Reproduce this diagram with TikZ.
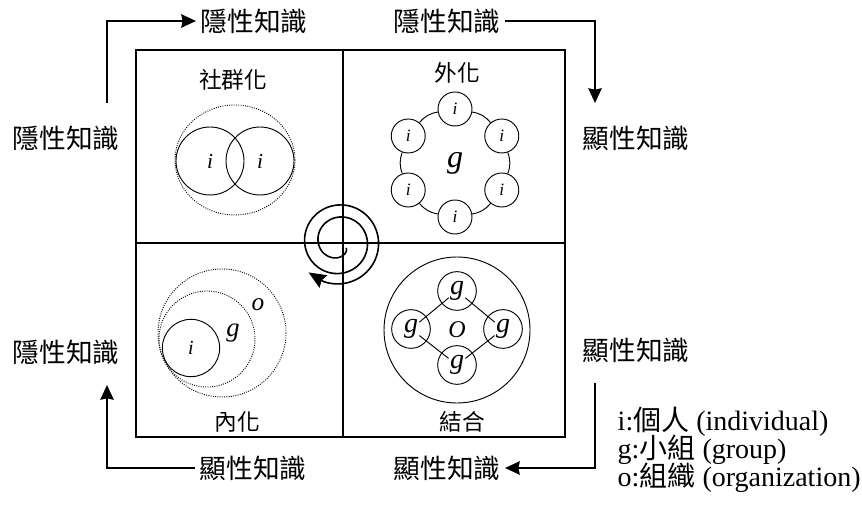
\documentclass[tikz,border=0pt]{standalone}
\usepackage{fontspec}
\setmainfont{Liberation Serif}
\newfontfamily\cjk{Noto Sans CJK TC}
\usetikzlibrary{arrows.meta, positioning, calc}

\begin{document}
\begin{tikzpicture}[
  x=0.75pt, y=0.75pt,
  every node/.style={font=\fontsize{17}{20}\selectfont},
  know/.style={font=\cjk\fontsize{20}{24}\selectfont},
  phase/.style={font=\cjk\fontsize{17}{20}\selectfont},
  person/.style={circle, draw, line width=0.7pt, inner sep=0pt, font=\fontsize{16}{18}\selectfont\itshape},
  member/.style={circle, draw, line width=0.7pt, fill=white, inner sep=0pt, minimum size=25.5pt, font=\fontsize{13}{15}\selectfont\itshape},
  team/.style={circle, draw, line width=0.7pt, inner sep=0pt, minimum size=29pt, font=\fontsize{21}{24}\selectfont\itshape},
  letter/.style={font=\fontsize{20}{24}\selectfont\itshape},
  legend/.style={anchor=west, font=\fontsize{21}{25}\selectfont},
  ring/.style={densely dotted, line width=0.7pt},
  arrow/.style={-{Stealth[length=11pt, width=10pt, inset=1pt]}, line width=1.5pt}
]
\useasboundingbox (0,0) rectangle (862,506);

% Frame
\draw[line width=1pt] (136,69) rectangle (565,456);
\draw[line width=1pt] (343,69) -- (343,456);
\draw[line width=1pt] (136,263) -- (565,263);

% Socialization
\node[phase] (soc) at (233,426) {社群化};
\draw[ring] (235,346) ellipse [x radius=60, y radius=55];
\node[person, minimum size=51pt] (iA) at (210,345) {i};
\node[person, minimum size=51pt] (iB) at (260,345) {i};

% Externalization
\node[phase] (ext) at (457,433) {外化};
\node[letter, font=\fontsize{24}{28}\selectfont\itshape] (grp) at (455,343) {g};
\foreach \a [count=\k] in {90,30,-30,-90,-150,150}
  \node[member] (m\k) at ($(grp)+(\a:54)$) {i};
\foreach \k/\m in {1/2,2/3,3/4,4/5,5/6,6/1}
  \draw[line width=0.7pt] (m\k) to[bend left=20] (m\m);

% Combination
\node[phase] (comb) at (462,84) {結合};
\node[person, minimum size=109.5pt, font=\fontsize{18}{22}\selectfont\itshape] (org) at (457,176) {O};
\node[team] (gT) at (457,215) {g};
\node[team] (gB) at (457,141) {g};
\node[team] (gL) at (411,177) {g};
\node[team] (gR) at (503,177) {g};
\foreach \p/\q in {gT/gL, gT/gR, gL/gB, gR/gB}
  \draw[line width=0.7pt, shorten <=8pt, shorten >=8pt] (\p.center) -- (\q.center);

% Internalization
\node[phase] (intl) at (237,84) {內化};
\draw[ring] (222,173) circle [radius=64];
\draw[ring] (207,167) circle [radius=48];
\node[person, minimum size=43pt, font=\fontsize{15}{18}\selectfont\itshape] (iC) at (191,158) {i};
\node[letter] (gC) at (233,173) {g};
\node[letter, font=\fontsize{19}{22}\selectfont\itshape] (oC) at (258,201) {o};

% Spiral
\coordinate (hub) at (339,264);
\def\spr#1{(9+34*((#1)/813)^0.6)}
\begin{scope}[shift={(hub)}]
\draw[line width=1.2pt, line cap=round]
  plot[domain=1:792, samples=160, smooth] ({\spr{\x}*cos(-40-\x)}, {\spr{\x}*sin(-40-\x)});
\draw[line width=1.2pt, -{Stealth[length=13pt, width=11pt, inset=1.5pt]}]
  ({\spr{792}*cos(-832)}, {\spr{792}*sin(-832)}) -- ({\spr{815}*cos(-855)}, {\spr{815}*sin(-855)});
\end{scope}

% Knowledge labels
\node[know] (tacitL1) at (66,368) {隱性知識};
\node[know] (tacitT1) at (254,485) {隱性知識};
\node[know] (tacitT2) at (447,485) {隱性知識};
\node[know] (explR1) at (636,368) {顯性知識};
\node[know] (explR2) at (636,156) {顯性知識};
\node[know] (explB2) at (447,38) {顯性知識};
\node[know] (explB1) at (253,38) {顯性知識};
\node[know] (tacitL2) at (66,154) {隱性知識};

% Turning arrows
\coordinate (c1) at (107,403);
\coordinate (c2) at (595,403);
\coordinate (c3) at (595,123);
\coordinate (c4) at (107,121);
\draw[arrow] (c1) |- (tacitT1);
\draw[arrow] (tacitT2) -| (c2);
\draw[arrow] (c3) |- (explB2);
\draw[arrow] (explB1) -| (c4);

% Legend
\node[legend] (lgI) at (613,84) {i:{\cjk 個人} (individual)};
\node[legend] (lgG) at (613,56) {g:{\cjk 小組} (group)};
\node[legend] (lgO) at (613,28) {o:{\cjk 組織} (organization)};

\end{tikzpicture}
\end{document}
